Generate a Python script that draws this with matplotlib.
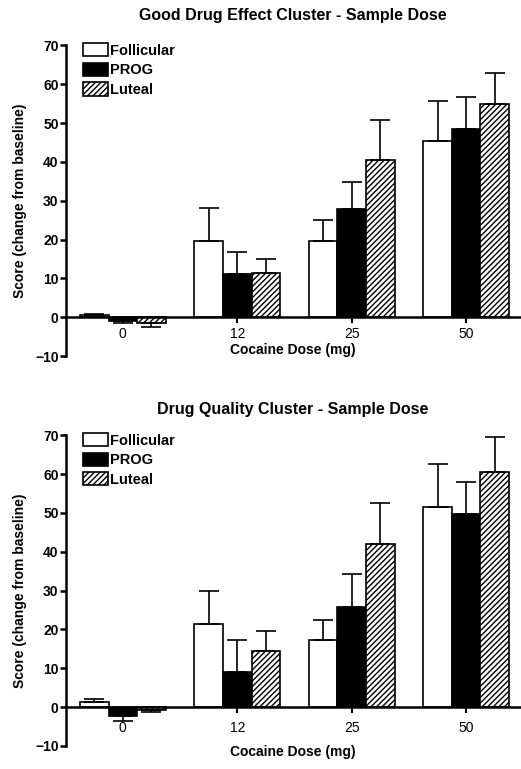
import numpy as np
import matplotlib
matplotlib.use("Agg")
import matplotlib.pyplot as plt
import matplotlib.transforms as mtransforms

plt.rcParams['font.family'] = ['Liberation Sans', 'DejaVu Sans']
plt.rcParams['hatch.linewidth'] = 1.0

doses = ["0", "12", "25", "50"]
groups = ["Follicular", "PROG", "Luteal"]

# Good Drug Effect cluster: means and error bar ends (SEM)
good_mean = {
    "Follicular": [0.5, 19.5, 19.7, 45.4],
    "PROG": [-1.0, 11.0, 27.9, 48.5],
    "Luteal": [-1.5, 11.5, 40.4, 55.0],
}
good_err = {
    "Follicular": [0.4, 8.5, 5.4, 10.4],
    "PROG": [0.6, 5.8, 6.8, 8.1],
    "Luteal": [0.9, 3.5, 10.4, 7.8],
}

# Drug Quality cluster
qual_mean = {
    "Follicular": [1.2, 21.5, 17.2, 51.5],
    "PROG": [-2.2, 9.0, 25.9, 49.6],
    "Luteal": [-0.8, 14.5, 42.1, 60.6],
}
qual_err = {
    "Follicular": [1.0, 8.5, 5.1, 11.0],
    "PROG": [1.3, 8.2, 8.5, 8.3],
    "Luteal": [0.4, 5.0, 10.5, 9.0],
}

titles = ["Good Drug Effect Cluster - Sample Dose", "Drug Quality Cluster - Sample Dose"]
colors = {"Follicular": "white", "PROG": "black", "Luteal": "white"}
hatches = {"Follicular": "", "PROG": "", "Luteal": "//////"}

fig = plt.figure(figsize=(5.21, 7.69), dpi=100)
ax1 = fig.add_axes([0.126, 0.537, 0.872, 0.404])
ax2 = fig.add_axes([0.126, 0.030, 0.872, 0.404])

x = np.arange(len(doses))
w = 0.25

# per-panel: tick label pad, x-label y (data units), title pad
layout = [(3, -8.5, 18), (6, -11.6, 15)]

for (ax, means, errs, title), (tpad, xly, ttl) in zip(
        [(ax1, good_mean, good_err, titles[0]),
         (ax2, qual_mean, qual_err, titles[1])], layout):
    for i, g in enumerate(groups):
        pos = x + (i - 1) * w
        m = np.array(means[g])
        e = np.array(errs[g])
        lower = np.where(m < 0, e, 0)
        upper = np.where(m >= 0, e, 0)
        ax.bar(pos, m, w, color=colors[g], edgecolor="black", linewidth=1.2,
               hatch=hatches[g], label=g, zorder=2)
        ax.errorbar(pos, m, yerr=[lower, upper], fmt="none", ecolor="black",
                    elinewidth=1.2, capsize=7, capthick=1.2, zorder=3)
    ax.set_xlim(-0.5, 3.47)
    ax.set_ylim(-10, 70)
    ax.set_yticks(range(-10, 71, 10))
    ax.set_xticks(x)
    ax.set_xticklabels(doses, fontweight="bold", fontsize=10)
    for lbl in ax.get_yticklabels():
        lbl.set_fontweight("bold")
        lbl.set_fontsize(10)
    ax.spines["top"].set_visible(False)
    ax.spines["right"].set_visible(False)
    ax.spines["bottom"].set_position(("data", 0))
    ax.spines["bottom"].set_linewidth(1.8)
    ax.spines["left"].set_linewidth(1.8)
    ax.tick_params(axis="y", direction="out", length=4, width=1.8, pad=1)
    ax.tick_params(axis="x", direction="out", length=4, width=1.5, pad=tpad)
    ax.set_ylabel("Score (change from baseline)", fontweight="bold", fontsize=10, labelpad=6)
    ax.set_title(title, fontweight="bold", fontsize=11.5, pad=ttl, x=0.5)
    trans = mtransforms.blended_transform_factory(ax.transAxes, ax.transData)
    ax.text(0.5, xly, "Cocaine Dose (mg)", transform=trans,
            ha="center", va="center", fontweight="bold", fontsize=10)
    ax.legend(loc="upper left", bbox_to_anchor=(0.02, 1.035), frameon=False,
              prop={"weight": "bold", "size": 10.5},
              handlelength=1.7, handleheight=1.0, handletextpad=0.1,
              labelspacing=0.35, borderaxespad=0.2)

fig.savefig("out.png", dpi=100)
